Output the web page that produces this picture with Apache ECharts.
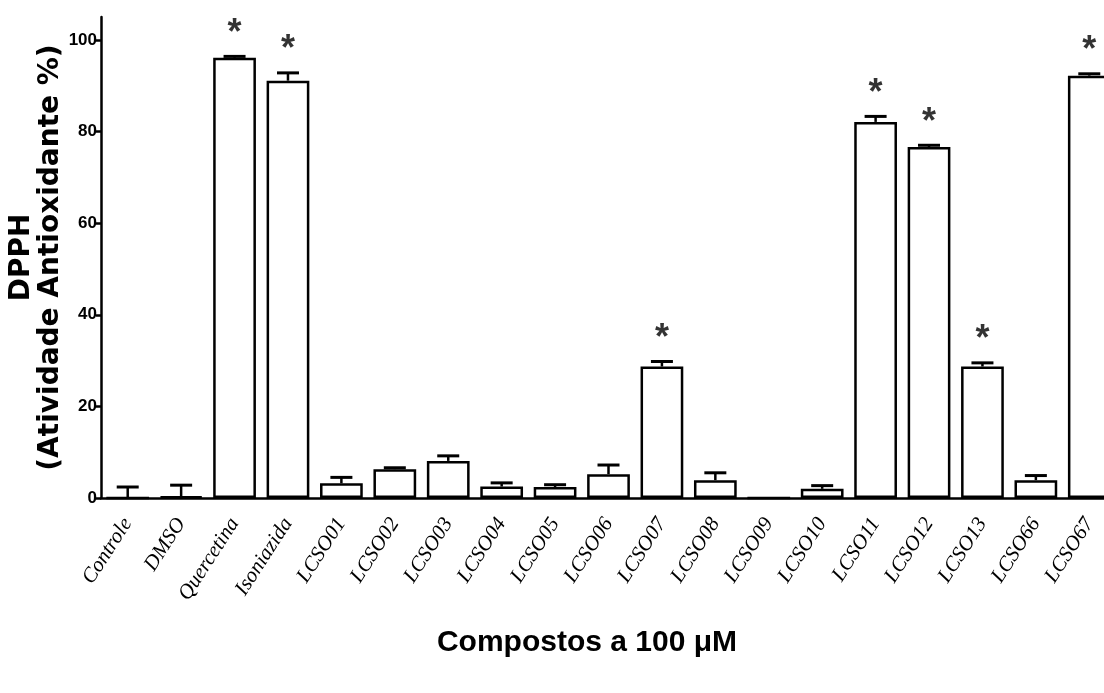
<!DOCTYPE html>
<html>
<head>
<meta charset="utf-8">
<script src="https://cdn.jsdelivr.net/npm/echarts@6/dist/echarts.min.js"></script>
<style>
html,body{margin:0;padding:0;background:#fff;overflow:hidden;}
#chart{width:1104px;height:693px;}
</style>
</head>
<body>
<div id="chart"></div>
<script>
const categories = ['Controle','DMSO','Quercetina','Isoniazida','LCSO01','LCSO02','LCSO03','LCSO04','LCSO05','LCSO06','LCSO07','LCSO08','LCSO09','LCSO10','LCSO11','LCSO12','LCSO13','LCSO66','LCSO67'];
const means = [0, 0.3, 96.1, 91.1, 3.2, 6.3, 8.1, 2.5, 2.4, 5.2, 28.7, 3.9, 0, 2.0, 82.1, 76.6, 28.7, 3.9, 92.2];
const errors = [2.4, 2.5, 0.3, 1.7, 1.3, 0.3, 1.1, 0.8, 0.5, 2.0, 1.1, 1.6, 0, 0.7, 1.2, 0.4, 0.8, 1.0, 0.4];
const significant = [0,0,1,1,0,0,0,0,0,0,1,0,0,0,1,1,1,0,1];
const yTicks = [0, 20, 40, 60, 80, 100];

const narrow = '"Liberation Sans Narrow", "Arial Narrow", "Liberation Sans", Arial, sans-serif';

const errData = categories.map((c, i) => [i, means[i], errors[i]]);
const starData = [];
categories.forEach((c, i) => { if (significant[i]) starData.push([i, means[i] + errors[i]]); });

const chart = echarts.init(document.getElementById('chart'));
chart.setOption({
  animation: false,
  backgroundColor: '#fff',
  grid: { left: 101, right: -12, top: 17, bottom: 195, containLabel: false, outerBoundsMode: 'none' },
  xAxis: {
    type: 'category',
    data: categories,
    boundaryGap: true,
    axisLine: { lineStyle: { color: '#000', width: 2.5 } },
    axisTick: { alignWithLabel: true, length: 7, lineStyle: { color: '#000', width: 2.5 } },
    axisLabel: {
      interval: 0,
      rotate: 57,
      margin: 22,
      color: '#000',
      fontFamily: '"Liberation Serif", "DejaVu Serif", serif',
      fontStyle: 'italic',
      fontSize: 21
    },
    name: 'Compostos a 100 μM',
    nameLocation: 'middle',
    nameGap: 130,
    nameMoveOverlap: false,
    nameTextStyle: { color: '#000', fontFamily: narrow, fontWeight: 'bold', fontSize: 30, padding: [0, 43, 0, 0] }
  },
  yAxis: {
    type: 'value',
    min: 0,
    max: 105,
    interval: 20,
    splitLine: { show: false },
    axisLine: { show: true, lineStyle: { color: '#000', width: 2.5 } },
    axisTick: { show: true, length: 5, customValues: yTicks, lineStyle: { color: '#000', width: 2.5 } },
    axisLabel: {
      customValues: yTicks,
      margin: 4,
      color: '#000',
      fontFamily: narrow,
      fontWeight: 'bold',
      fontSize: 17
    },
    name: 'DPPH\n(Atividade Antioxidante %)',
    nameLocation: 'middle',
    nameRotate: 90,
    nameGap: 36,
    nameMoveOverlap: false,
    nameTextStyle: { color: '#000', fontFamily: '"DejaVu Sans", Verdana, sans-serif', fontWeight: 'bold', fontSize: 28, lineHeight: 29, align: 'center' }
  },
  series: [
    {
      type: 'bar',
      data: means,
      barWidth: '80%',
      itemStyle: { color: '#fff', borderColor: '#000', borderWidth: 2.5 },
      z: 2
    },
    {
      type: 'custom',
      data: errData,
      z: 3,
      renderItem: function (params, api) {
        const i = api.value(0), m = api.value(1), e = api.value(2);
        if (!e) return null;
        const p0 = api.coord([i, m]);
        const p1 = api.coord([i, m + e]);
        const half = 11;
        return {
          type: 'group',
          children: [
            { type: 'line', shape: { x1: p0[0], y1: p0[1], x2: p1[0], y2: p1[1] }, style: { stroke: '#000', lineWidth: 2.5 } },
            { type: 'line', shape: { x1: p1[0] - half, y1: p1[1], x2: p1[0] + half, y2: p1[1] }, style: { stroke: '#000', lineWidth: 3 } }
          ]
        };
      }
    },
    {
      type: 'scatter',
      data: starData,
      symbolSize: 1,
      itemStyle: { color: 'rgba(0,0,0,0)' },
      label: {
        show: true,
        position: 'top',
        distance: 4,
        formatter: '*',
        color: '#000',
        fontFamily: 'Arial, "Liberation Sans", sans-serif',
        fontWeight: 'bold',
        fontSize: 36
      },
      z: 4
    }
  ]
});
</script>
</body>
</html>
